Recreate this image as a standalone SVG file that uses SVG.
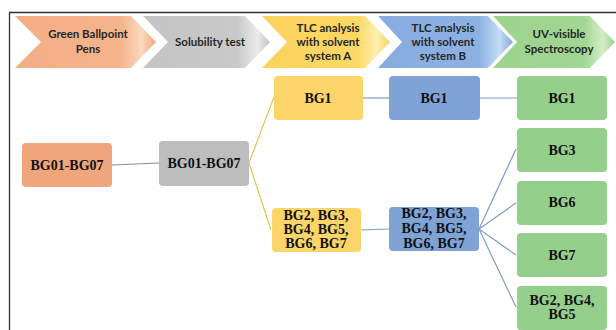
<svg xmlns="http://www.w3.org/2000/svg" width="616" height="330" viewBox="0 0 616 330">
  <style>
    .step { font-family: Lato, "Open Sans", "Liberation Sans", sans-serif; font-weight: bold; font-size: 11.5px; fill: #262626; text-anchor: middle; }
    .lbl { font-family: "Liberation Serif", "Times New Roman", serif; font-weight: bold; font-size: 14px; fill: #111; text-anchor: middle; }
    .frame { fill: none; stroke: #333; stroke-width: 1.3; }
    .c-gray { fill: none; stroke: #8c8c8c; stroke-width: 1.2; }
    .c-yel { fill: none; stroke: #e6c65a; stroke-width: 1.2; }
    .c-blue { fill: none; stroke: #7f9cc4; stroke-width: 1.2; }
    .n-orange { fill: #f0a67c; }
    .n-gray { fill: #bdbdbd; }
    .n-yel { fill: #fcd56a; }
    .n-blue { fill: #7fa2d7; }
    .n-green { fill: #95cf8c; }
  </style>
  <defs>
    <linearGradient id="gOrange" x1="0" y1="0" x2="1" y2="0">
      <stop offset="0" stop-color="#f4ae85"/><stop offset="0.75" stop-color="#f5b48c"/><stop offset="0.9" stop-color="#fbd8bd"/><stop offset="1" stop-color="#f0a67c"/>
    </linearGradient>
    <linearGradient id="gGray" x1="0" y1="0" x2="1" y2="0">
      <stop offset="0" stop-color="#c4c4c4"/><stop offset="0.75" stop-color="#c9c9c9"/><stop offset="0.9" stop-color="#ececec"/><stop offset="1" stop-color="#c0c0c0"/>
    </linearGradient>
    <linearGradient id="gYel" x1="0" y1="0" x2="1" y2="0">
      <stop offset="0" stop-color="#fbd35e"/><stop offset="0.75" stop-color="#fcd866"/><stop offset="0.9" stop-color="#fdf0b0"/><stop offset="1" stop-color="#f8cf58"/>
    </linearGradient>
    <linearGradient id="gBlue" x1="0" y1="0" x2="1" y2="0">
      <stop offset="0" stop-color="#86abde"/><stop offset="0.75" stop-color="#8db2e2"/><stop offset="0.9" stop-color="#c4dcf4"/><stop offset="1" stop-color="#82a8dc"/>
    </linearGradient>
    <linearGradient id="gGreen" x1="0" y1="0" x2="1" y2="0">
      <stop offset="0" stop-color="#9bd38c"/><stop offset="0.75" stop-color="#a2d693"/><stop offset="0.9" stop-color="#d6edc9"/><stop offset="1" stop-color="#98d189"/>
    </linearGradient>
  </defs>

  <rect width="616" height="330" fill="#ffffff"/>
  <!-- outer frame: top and left edges -->
  <path class="frame" d="M9.5,330 V12.5 H616"/>

  <!-- process steps -->
  <g id="step-pens">
    <polygon points="15,16 131,16 156,42 131,68 15,68 41,42" fill="url(#gOrange)"/>
    <text class="step" x="88" y="38">Green Ballpoint</text>
    <text class="step" x="88" y="53">Pens</text>
  </g>
  <g id="step-solubility">
    <polygon points="143,16 245,16 270,42 245,68 143,68 168,42" fill="url(#gGray)"/>
    <text class="step" x="210" y="46">Solubility test</text>
  </g>
  <g id="step-tlc-a">
    <polygon points="262,16 365,16 390,42 365,68 262,68 287,42" fill="url(#gYel)"/>
    <text class="step" x="328" y="32">TLC analysis</text>
    <text class="step" x="328" y="46">with solvent</text>
    <text class="step" x="328" y="60">system A</text>
  </g>
  <g id="step-tlc-b">
    <polygon points="378,16 488,16 513,42 488,68 378,68 402,42" fill="url(#gBlue)"/>
    <text class="step" x="443" y="32">TLC analysis</text>
    <text class="step" x="443" y="46">with solvent</text>
    <text class="step" x="443" y="60">system B</text>
  </g>
  <g id="step-uv">
    <polygon points="493,16 590,16 615,42 590,68 493,68 517,42" fill="url(#gGreen)"/>
    <text class="step" x="559" y="38">UV-visible</text>
    <text class="step" x="559" y="53">Spectroscopy</text>
  </g>

  <!-- connectors -->
  <g id="connectors">
    <line class="c-gray" x1="112" y1="165" x2="159" y2="163"/>
    <polyline class="c-yel" points="274,97 249,163 271,230"/>
    <line class="c-blue" x1="363" y1="98" x2="389" y2="98"/>
    <line class="c-blue" x1="480" y1="98" x2="517" y2="98"/>
    <line class="c-blue" x1="361" y1="230" x2="389" y2="229"/>
    <line class="c-blue" x1="479" y1="229" x2="516" y2="149"/>
    <line class="c-blue" x1="479" y1="229" x2="516" y2="203"/>
    <line class="c-blue" x1="479" y1="229" x2="516" y2="255"/>
    <line class="c-blue" x1="479" y1="229" x2="516" y2="307"/>
  </g>

  <!-- sample nodes -->
  <g id="pens-all">
    <rect class="n-orange" x="22" y="143" width="90" height="44" rx="4"/>
    <text class="lbl" x="67" y="170">BG01-BG07</text>
  </g>
  <g id="solubility-all">
    <rect class="n-gray" x="159" y="141" width="90" height="45" rx="4"/>
    <text class="lbl" x="204" y="168">BG01-BG07</text>
  </g>
  <g id="tlc-a-bg1">
    <rect class="n-yel" x="274" y="76" width="89" height="44" rx="4"/>
    <text class="lbl" x="318" y="103">BG1</text>
  </g>
  <g id="tlc-a-rest">
    <rect class="n-yel" x="272" y="208" width="89" height="44" rx="4"/>
    <text class="lbl" x="316" y="220">BG2, BG3,</text>
    <text class="lbl" x="316" y="234">BG4, BG5,</text>
    <text class="lbl" x="316" y="248">BG6, BG7</text>
  </g>
  <g id="tlc-b-bg1">
    <rect class="n-blue" x="389" y="76" width="91" height="44" rx="4"/>
    <text class="lbl" x="434" y="103">BG1</text>
  </g>
  <g id="tlc-b-rest">
    <rect class="n-blue" x="389" y="207" width="90" height="44" rx="4"/>
    <text class="lbl" x="434" y="218">BG2, BG3,</text>
    <text class="lbl" x="434" y="233">BG4, BG5,</text>
    <text class="lbl" x="434" y="248">BG6, BG7</text>
  </g>
  <g id="uv-bg1">
    <rect class="n-green" x="517" y="76" width="90" height="44" rx="4"/>
    <text class="lbl" x="562" y="103">BG1</text>
  </g>
  <g id="uv-bg3">
    <rect class="n-green" x="517" y="128" width="90" height="44" rx="4"/>
    <text class="lbl" x="562" y="155">BG3</text>
  </g>
  <g id="uv-bg6">
    <rect class="n-green" x="517" y="181" width="90" height="44" rx="4"/>
    <text class="lbl" x="562" y="207">BG6</text>
  </g>
  <g id="uv-bg7">
    <rect class="n-green" x="517" y="233" width="90" height="44" rx="4"/>
    <text class="lbl" x="562" y="260">BG7</text>
  </g>
  <g id="uv-bg245">
    <rect class="n-green" x="517" y="286" width="90" height="44" rx="4"/>
    <text class="lbl" x="562" y="305">BG2, BG4,</text>
    <text class="lbl" x="562" y="319">BG5</text>
  </g>
</svg>
